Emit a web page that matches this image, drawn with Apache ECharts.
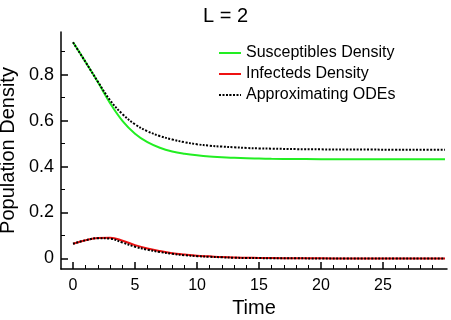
<!DOCTYPE html>
<html>
<head>
<meta charset="utf-8">
<script src="https://cdn.jsdelivr.net/npm/echarts@6/dist/echarts.min.js"></script>
<style>html,body{margin:0;padding:0;background:#fff}#c{width:451px;height:320px}</style>
</head>
<body>
<div id="c"></div>
<script>
const times = [0,1,2,3,4,5,6,7,8,9,10,11,12,13,14,15,16,18,20,22,24,26,28,30];
const susceptibles = [0.941,0.856,0.768,0.675,0.598,0.543,0.506,0.482,0.466,0.456,0.449,0.444,0.441,0.438,0.436,0.435,0.434,0.433,0.432,0.432,0.432,0.432,0.432,0.432];
const susceptiblesODE = [0.941,0.856,0.77,0.688,0.628,0.584,0.554,0.533,0.518,0.506,0.497,0.491,0.487,0.484,0.481,0.479,0.478,0.476,0.475,0.474,0.474,0.473,0.473,0.473];
const infecteds = [0.064,0.079,0.089,0.090,0.077,0.058,0.043,0.032,0.023,0.017,0.012,0.009,0.006,0.004,0.003,0.002,0.0015,0.001,0.0005,0,0,0,0,0];
const infectedsODE = [0.064,0.079,0.088,0.086,0.069,0.051,0.038,0.028,0.02,0.014,0.01,0.007,0.005,0.003,0.002,0.0015,0.001,0.0005,0,0,0,0,0,0];
const xMajorTicks = [0,5,10,15,20,25];
const xMinorTicks = [1,2,3,4,6,7,8,9,11,12,13,14,16,17,18,19,21,22,23,24,26,27,28,29];
const yMajorTicks = [0,0.2,0.4,0.6,0.8];
const yMinorTicks = [0.1,0.3,0.5,0.7,0.9];

const pair = (xs, ys) => xs.map((x, i) => [x, ys[i]]);
const FONT = 'Liberation Sans, Arial, sans-serif';
const chart = echarts.init(document.getElementById('c'));
const xMin = -0.97, xMax = 30.16, yMin = -0.046, yMax = 0.986;
chart.setOption({
  animation: false,
  textStyle: {fontFamily: FONT},
  title: {text: 'L = 2', left: 'center', top: 1, textStyle: {fontFamily: FONT, fontSize: 20, fontWeight: 'normal', color: '#000'}},
  legend: {
    orient: 'vertical', left: 213, top: 40, itemWidth: 22, itemHeight: 2, itemGap: 5,
    textStyle: {fontFamily: FONT, fontSize: 16, color: '#000'},
    data: ['Susceptibles Density', 'Infecteds Density', 'Approximating ODEs']
  },
  grid: {left: 61, right: 4, top: 32, bottom: 51, outerBoundsMode: 'none', containLabel: false},
  xAxis: [{
    type: 'value', min: xMin, max: xMax, position: 'bottom',
    name: 'Time', nameLocation: 'middle', nameGap: 29,
    nameTextStyle: {fontFamily: FONT, fontSize: 20, color: '#000'},
    axisLine: {show: true, onZero: false, lineStyle: {color: '#000', width: 1.5}},
    axisTick: {show: true, inside: true, length: 7, customValues: xMajorTicks, lineStyle: {color: '#000', width: 1.5}},
    axisLabel: {customValues: xMajorTicks, fontFamily: FONT, fontSize: 16, color: '#000', margin: 9},
    splitLine: {show: false}
  }, {
    type: 'value', min: xMin, max: xMax, position: 'bottom', gridIndex: 0,
    axisLine: {show: false, onZero: false},
    axisTick: {show: true, inside: true, length: 4, customValues: xMinorTicks, lineStyle: {color: '#000', width: 1}},
    axisLabel: {show: false}, splitLine: {show: false}
  }],
  yAxis: [{
    type: 'value', min: yMin, max: yMax, position: 'left',
    name: 'Population Density', nameLocation: 'middle', nameGap: 43,
    nameTextStyle: {fontFamily: FONT, fontSize: 20, color: '#000'},
    axisLine: {show: true, onZero: false, lineStyle: {color: '#000', width: 1.5}},
    axisTick: {show: true, inside: true, length: 7, customValues: yMajorTicks, lineStyle: {color: '#000', width: 1.5}},
    axisLabel: {customValues: yMajorTicks, fontFamily: FONT, fontSize: 18, color: '#000', margin: 7},
    splitLine: {show: false}
  }, {
    type: 'value', min: yMin, max: yMax, position: 'left',
    axisLine: {show: false, onZero: false},
    axisTick: {show: true, inside: true, length: 4, customValues: yMinorTicks, lineStyle: {color: '#000', width: 1}},
    axisLabel: {show: false}, splitLine: {show: false}
  }],
  series: [
    {name: 'Susceptibles Density', type: 'line', data: pair(times, susceptibles), showSymbol: false, symbol: 'none', smooth: 0.4, lineStyle: {color: '#22ee22', width: 2}, itemStyle: {color: '#22ee22'}},
    {name: 'Infecteds Density', type: 'line', data: pair(times, infecteds), showSymbol: false, symbol: 'none', smooth: 0.4, lineStyle: {color: '#ee1111', width: 2}, itemStyle: {color: '#ee1111'}},
    {name: 'Approximating ODEs', type: 'line', data: pair(times, susceptiblesODE), showSymbol: false, symbol: 'none', smooth: 0.4, lineStyle: {color: '#000', width: 2, type: [2, 1.5]}, itemStyle: {color: '#000'}},
    {name: 'Approximating ODEs', type: 'line', data: pair(times, infectedsODE), showSymbol: false, symbol: 'none', smooth: 0.4, lineStyle: {color: '#000', width: 2, type: [2, 1.5]}, itemStyle: {color: '#000'}}
  ]
});
</script>
</body>
</html>
